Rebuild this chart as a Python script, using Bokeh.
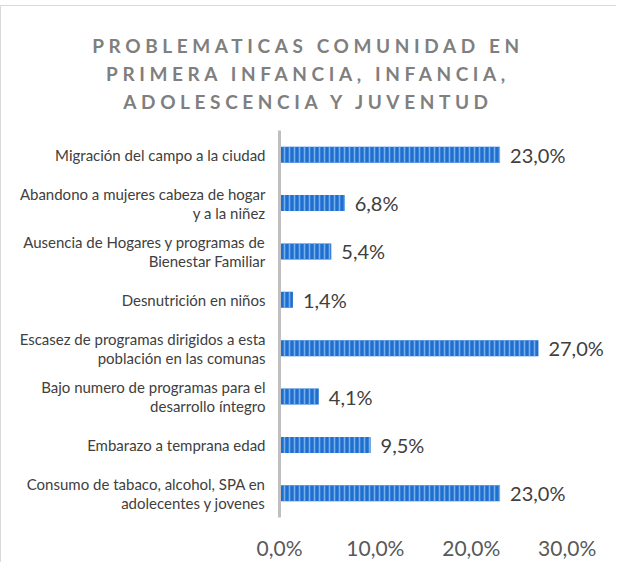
from bokeh.plotting import figure
from bokeh.models import Div, ColumnDataSource, FixedTicker, CustomJSTickFormatter, Range1d, LabelSet
from bokeh.layouts import column
from bokeh.core.properties import value
from bokeh.embed import file_html
from bokeh.resources import INLINE

title_lines = ["PROBLEMATICAS COMUNIDAD EN", "PRIMERA INFANCIA, INFANCIA,", "ADOLESCENCIA Y JUVENTUD"]

categories = [
    "Migración del campo a la ciudad",
    "Abandono a mujeres cabeza de hogar\ny a la niñez",
    "Ausencia de Hogares y programas de\nBienestar Familiar",
    "Desnutrición en niños",
    "Escasez de programas dirigidos a esta\npoblación en las comunas",
    "Bajo numero de programas para el\ndesarrollo íntegro",
    "Embarazo a temprana edad",
    "Consumo de tabaco, alcohol, SPA en\nadolecentes y jovenes",
]
values = [23.0, 6.8, 5.4, 1.4, 27.0, 4.1, 9.5, 23.0]
ticks = [0, 10, 20, 30]

labels = [f"{v:.1f}".replace(".", ",") + "%" for v in values]
src = ColumnDataSource(dict(cat=categories, val=values, lab=labels))

FONT = "Lato"

title_html = (
    f'<div style="font-family:{FONT};font-weight:bold;font-size:19px;color:#7F7F7F;'
    'letter-spacing:4.6px;line-height:28px;text-align:center;padding-top:21px;'
    'padding-left:31px;width:573px;">'
    + "<br>".join(title_lines) + "</div>"
)
div = Div(text=title_html, width=605, height=110)

p = figure(
    y_range=list(reversed(categories)),
    x_range=Range1d(0, 34.1),
    width=605, height=436,
    output_backend="svg", toolbar_location=None,
    min_border_left=278, min_border_right=0, min_border_top=4, min_border_bottom=45,
)
p.outline_line_color = None
p.background_fill_color = "white"
p.border_fill_color = "white"
p.xgrid.grid_line_color = None
p.ygrid.grid_line_color = None

p.hbar(y="cat", right="val", left=0, height=0.33, source=src,
       fill_color="#1E6FCF", line_color=None,
       hatch_pattern="vertical_line", hatch_color="#78AEEA",
       hatch_scale=5, hatch_weight=1.6)

value_labels = LabelSet(x="val", y="cat", text="lab", source=src, x_offset=10,
                        text_baseline="middle", text_align="left",
                        text_font=value(FONT), text_font_size=value("20px"),
                        text_color=value("#404040"))
p.add_layout(value_labels)

# x axis
p.xaxis.ticker = FixedTicker(ticks=ticks)
p.xaxis.formatter = CustomJSTickFormatter(code="return tick.toFixed(1).replace('.', ',') + '%';")
p.xaxis.axis_line_color = None
p.xaxis.major_tick_line_color = None
p.xaxis.minor_tick_line_color = None
p.xaxis.major_tick_out = 0
p.xaxis.major_tick_in = 0
p.xaxis.major_label_standoff = 17
p.xaxis.major_label_text_font = FONT
p.xaxis.major_label_text_font_size = "21px"
p.xaxis.major_label_text_color = "#595959"

# y axis
p.yaxis.axis_line_color = "#BFBFBF"
p.yaxis.axis_line_width = 3
p.yaxis.major_tick_line_color = None
p.yaxis.minor_tick_line_color = None
p.yaxis.major_tick_out = 0
p.yaxis.major_tick_in = 0
p.yaxis.major_label_standoff = 14
p.yaxis.major_label_text_font = FONT
p.yaxis.major_label_text_font_size = "15px"
p.yaxis.major_label_text_color = "#404040"
p.yaxis.major_label_text_line_height = 1.05

layout = column(div, p, styles={
    "margin-top": "5px",
    "border-top": "1px solid #D9D9D9",
    "border-left": "1px solid #D9D9D9",
})

open("out.html", "w").write(file_html(layout, INLINE))
